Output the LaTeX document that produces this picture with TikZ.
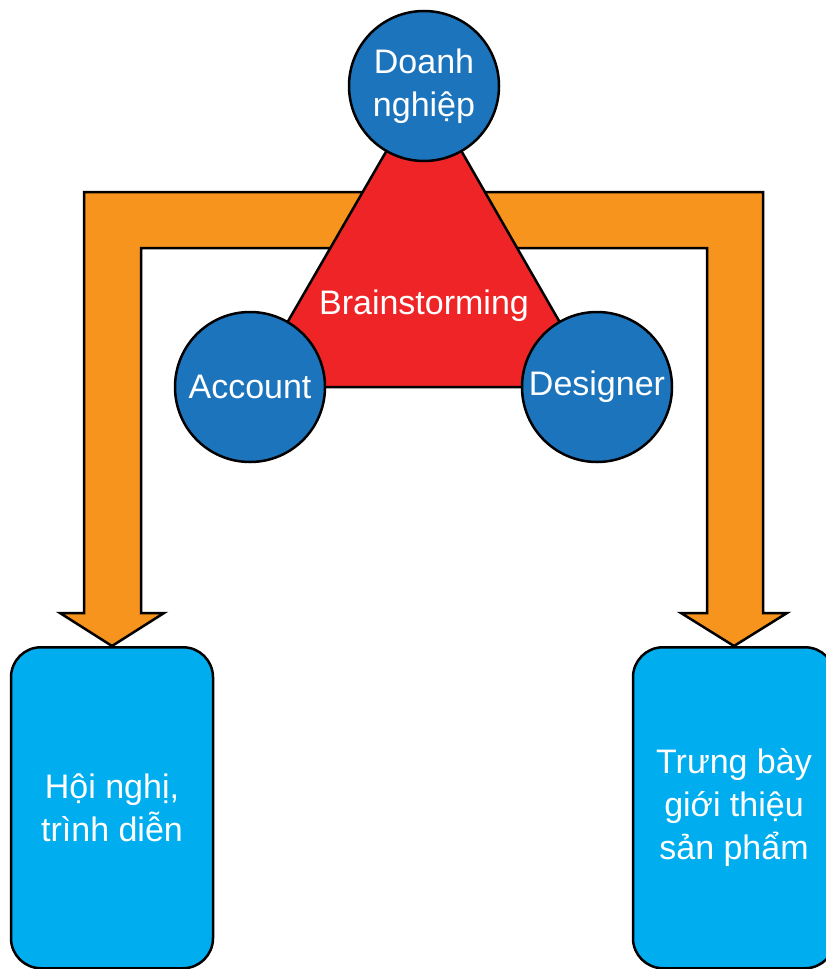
\documentclass[tikz,border=0pt]{standalone}
\usepackage{fontspec}
\setmainfont{Liberation Sans}
\usepackage{tikz}
\definecolor{bubbleblue}{HTML}{1C75BC}
\definecolor{panelblue}{HTML}{00AEEF}
\definecolor{flowred}{HTML}{EE2427}
\definecolor{floworange}{HTML}{F7941D}
\tikzset{
      bubble/.style={circle, draw=black, fill=bubbleblue, line width=2.5pt, minimum size=150pt,
            inner sep=0pt, text=white, font=\fontsize{34}{43}\selectfont, align=center},
      panel/.style={rectangle, rounded corners=30pt, draw=black, fill=panelblue, line width=2.5pt,
            minimum width=202pt, minimum height=321pt, text=white,
            font=\fontsize{34}{43}\selectfont, align=center},
      bigarrow/.style={draw=black, fill=floworange, line width=2.5pt, line join=miter},
      core/.style={draw=black, fill=flowred, line width=2.5pt, line join=round},
}

\begin{document}
\begin{tikzpicture}[x=1pt,y=-1pt]

        \useasboundingbox (0,0) rectangle (825,969);

        \coordinate (cDN) at (424,86);
        \coordinate (cAC) at (250,387);
        \coordinate (cDS) at (597,387);

        \node[panel, anchor=north] (hoinghi) at (112,646) {Hội nghị,\\trình diễn};
        \node[panel, anchor=north] (trungbay) at (734,646) {Trưng bày\\giới thiệu\\sản phẩm};

        \draw[bigarrow] (84,192) -- (763,192) -- (763,613) -- (787,613) -- (trungbay.north)
              -- (681,613) -- (707,613) -- (707,248) -- (141,248) -- (141,613)
              -- (164,613) -- (hoinghi.north) -- (60,613) -- (84,613) -- cycle ;

        \draw[core] (cDN) -- (cAC) -- (cDS) -- cycle ;
        \node[text=white, font=\fontsize{34}{43}\selectfont] (brain) at (424,306) {Brainstorming};

        \node[bubble] (doanh) at (cDN) {Doanh\\nghiệp};
        \node[bubble] (account) at (cAC) {Account};
        \node[bubble] (designer) at (cDS) {Designer};

\end{tikzpicture}
\end{document}
